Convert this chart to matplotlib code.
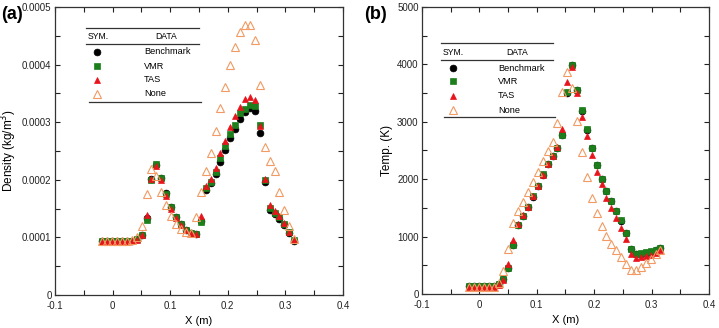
import numpy as np
import matplotlib
matplotlib.use("Agg")
import matplotlib.pyplot as plt
from matplotlib.ticker import MultipleLocator, FuncFormatter

plt.rcParams['font.family'] = ['Liberation Sans', 'DejaVu Sans']

# x positions of the sampled cells (m)
x = [-0.018, -0.0095, -0.001, 0.0076, 0.0162, 0.0247, 0.0333, 0.0418, 0.0504, 0.059,
     0.0675, 0.0761, 0.0846, 0.0932, 0.1017, 0.1103, 0.1188, 0.1274, 0.1359, 0.1445,
     0.153, 0.1616, 0.1701, 0.1787, 0.1872, 0.1958, 0.2043, 0.2129, 0.2214, 0.23,
     0.2385, 0.2471, 0.2556, 0.2642, 0.2727, 0.2813, 0.2898, 0.2984, 0.3069, 0.3155]

# (a) density, units of 1e-4 kg/m^3
rho_bench = [0.935, 0.935, 0.935, 0.935, 0.935, 0.935, 0.94, 0.97, 1.04, 1.33,
             2.02, 2.26, 2.04, 1.77, 1.53, 1.36, 1.23, 1.13, 1.08, 1.06,
             1.28, 1.83, 1.94, 2.10, 2.31, 2.52, 2.72, 2.89, 3.05, 3.17,
             3.24, 3.19, 2.82, 1.96, 1.48, 1.40, 1.32, 1.21, 1.08, 0.94]
rho_vmr = [0.935, 0.935, 0.935, 0.935, 0.935, 0.935, 0.94, 0.97, 1.04, 1.31,
           2.00, 2.28, 2.03, 1.76, 1.53, 1.35, 1.23, 1.13, 1.08, 1.06,
           1.27, 1.85, 1.96, 2.14, 2.37, 2.58, 2.80, 2.96, 3.16, 3.23,
           3.30, 3.28, 2.95, 1.99, 1.51, 1.42, 1.35, 1.23, 1.09, 0.96]
rho_tas = [0.925, 0.925, 0.925, 0.925, 0.925, 0.925, 0.93, 0.96, 1.05, 1.39,
           2.02, 2.24, 1.99, 1.72, 1.50, 1.33, 1.21, 1.12, 1.07, 1.06,
           1.37, 1.89, 2.01, 2.21, 2.46, 2.67, 2.92, 3.11, 3.27, 3.40,
           3.44, 3.39, 2.94, 2.01, 1.56, 1.46, 1.38, 1.25, 1.10, 0.96]
rho_none = [0.94, 0.94, 0.94, 0.94, 0.94, 0.94, 0.96, 1.00, 1.19, 1.75,
            2.18, 2.06, 1.79, 1.56, 1.38, 1.24, 1.15, 1.10, 1.07, 1.35,
            1.79, 2.16, 2.46, 2.84, 3.24, 3.62, 3.99, 4.31, 4.57, 4.69,
            4.69, 4.43, 3.65, 2.57, 2.33, 2.16, 1.79, 1.47, 1.19, 0.98]

# (b) temperature, K
T_bench = [135, 135, 135, 135, 135, 138, 174, 261, 448, 853,
           1202, 1353, 1510, 1690, 1880, 2080, 2260, 2405, 2550, 2765,
           3495, 3990, 3550, 3195, 2860, 2535, 2245, 2003, 1789, 1615,
           1440, 1277, 1063, 784, 697, 705, 720, 737, 760, 800]
T_vmr = [140, 140, 140, 140, 140, 142, 176, 262, 450, 850,
         1200, 1350, 1510, 1700, 1885, 2085, 2265, 2405, 2550, 2770,
         3525, 3995, 3555, 3205, 2870, 2540, 2255, 2010, 1795, 1620,
         1445, 1282, 1070, 790, 705, 712, 727, 745, 765, 805]
T_tas = [115, 115, 115, 115, 115, 120, 165, 235, 520, 940,
         1215, 1370, 1520, 1700, 1885, 2080, 2265, 2410, 2560, 2880,
         3700, 3960, 3500, 3090, 2750, 2420, 2120, 1910, 1680, 1500,
         1320, 1145, 965, 705, 630, 640, 660, 680, 720, 770]
T_none = [125, 125, 125, 125, 125, 130, 200, 406, 784, 1242,
          1451, 1597, 1770, 1945, 2125, 2317, 2491, 2648, 2974, 3524,
          3860, 3583, 3010, 2465, 2035, 1680, 1406, 1190, 1010, 871,
          760, 645, 525, 410, 410, 465, 535, 605, 690, 765]

series_names = ['Benchmark', 'VMR', 'TAS', 'None']

c_black = 'black'
c_green = '#1c7f1c'
c_red = '#e8141b'
c_orange = '#f29a62'

styles = [
    dict(marker='o', ms=4.9, mfc=c_black, mec=c_black, mew=0.5),
    dict(marker='s', ms=4.1, mfc=c_green, mec=c_green, mew=0.5),
    dict(marker='^', ms=4.7, mfc=c_red, mec=c_red, mew=0.5),
    dict(marker='^', ms=5.3, mfc='none', mec=c_orange, mew=0.8),
]

fig = plt.figure(figsize=(7.19, 3.28), dpi=100)
ax1 = fig.add_axes([0.0765, 0.1006, 0.4005, 0.878])
ax2 = fig.add_axes([0.587, 0.1037, 0.399, 0.875])


def style_axes(ax):
    ax.tick_params(which='both', direction='in', top=True, right=True,
                   length=3.6, width=0.8, labelsize=7, colors='#222222', pad=2.5)
    ax.tick_params(axis='x', which='both', pad=4)
    for s in ax.spines.values():
        s.set_linewidth(0.9)
        s.set_color('#333333')


def draw_legend(ax, x0, x1, y_top, y_mid, y_bot, y_head, x_sym, x_data, x_mark, x_lab, ys):
    kw = dict(transform=ax.transAxes, clip_on=False, color='#333333', lw=0.9)
    ax.plot([x0, x1], [y_top, y_top], **kw)
    ax.plot([x0, x1], [y_mid, y_mid], **kw)
    ax.plot([x0 + 0.01, x1 + 0.007], [y_bot, y_bot], **kw)
    ax.text(x_sym, y_head, 'SYM.', transform=ax.transAxes, fontsize=6.2, va='center', ha='left')
    ax.text(x_data, y_head, 'DATA', transform=ax.transAxes, fontsize=6.2, va='center', ha='center')
    for name, st, yy in zip(series_names, styles, ys):
        ax.plot([x_mark], [yy], ls='none', transform=ax.transAxes, clip_on=False, **st)
        ax.text(x_lab, yy, name, transform=ax.transAxes, fontsize=6.6, va='center', ha='left')


# panel (a)
rho_sets = [rho_bench, rho_vmr, rho_tas, rho_none]
for vals, st in zip(rho_sets, styles):
    ax1.plot(x, np.array(vals) * 1e-4, ls='none', **st)
ax1.set_xlim(-0.1, 0.4)
ax1.set_ylim(0, 0.0005)
ax1.xaxis.set_major_locator(MultipleLocator(0.1))
ax1.xaxis.set_minor_locator(MultipleLocator(0.05))
ax1.yaxis.set_major_locator(MultipleLocator(0.0001))
ax1.yaxis.set_minor_locator(MultipleLocator(0.00005))
ax1.xaxis.set_major_formatter(FuncFormatter(lambda v, p: '0' if abs(v) < 1e-9 else '%g' % round(v, 3)))
ax1.yaxis.set_major_formatter(FuncFormatter(lambda v, p: '0' if abs(v) < 1e-12 else '%.4f' % v))
style_axes(ax1)
ax1.set_xlabel('X (m)', fontsize=8, labelpad=4)
ax1.set_ylabel('Density (kg/m$^3$)', fontsize=8.5, labelpad=2)
draw_legend(ax1, 0.108, 0.5, 0.927, 0.872, 0.670, 0.896, 0.115, 0.385, 0.146, 0.309,
            [0.844, 0.795, 0.747, 0.698])
fig.text(0.002, 0.955, '(a)', fontsize=13, fontweight='bold', va='center', ha='left')

# panel (b)
T_sets = [T_bench, T_vmr, T_tas, T_none]
for vals, st in zip(T_sets, styles):
    ax2.plot(x, vals, ls='none', **st)
ax2.set_xlim(-0.1, 0.4)
ax2.set_ylim(0, 5000)
ax2.xaxis.set_major_locator(MultipleLocator(0.1))
ax2.xaxis.set_minor_locator(MultipleLocator(0.05))
ax2.yaxis.set_major_locator(MultipleLocator(1000))
ax2.yaxis.set_minor_locator(MultipleLocator(500))
ax2.xaxis.set_major_formatter(FuncFormatter(lambda v, p: '0' if abs(v) < 1e-9 else '%g' % round(v, 3)))
style_axes(ax2)
ax2.set_xlabel('X (m)', fontsize=8, labelpad=4)
ax2.set_ylabel('Temp. (K)', fontsize=8.5, labelpad=3)
draw_legend(ax2, 0.066, 0.456, 0.875, 0.815, 0.617, 0.84, 0.073, 0.331, 0.108, 0.265,
            [0.787, 0.742, 0.690, 0.641])
fig.text(0.507, 0.955, '(b)', fontsize=13, fontweight='bold', va='center', ha='left')

fig.savefig('out.png', dpi=100)
